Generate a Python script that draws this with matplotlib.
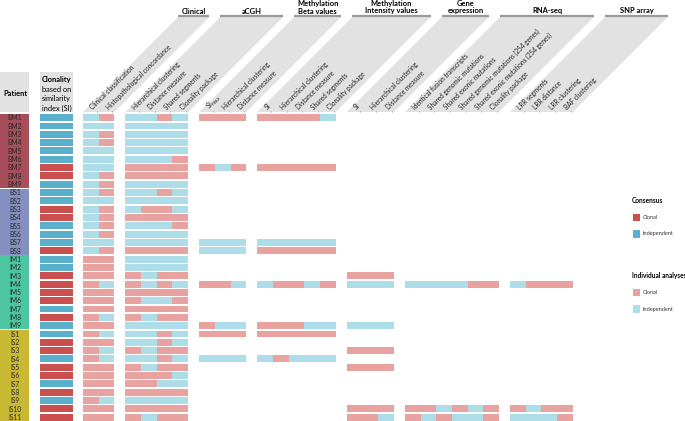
import matplotlib.pyplot as plt
from matplotlib.patches import Polygon, Rectangle

plt.rcParams["font.family"] = ["Lato", "DejaVu Sans"]

# patients and consensus call (C = clonal, I = independent)
patients = (["BM%d" % i for i in range(1, 10)] + ["BS%d" % i for i in range(1, 9)]
            + ["IM%d" % i for i in range(1, 10)] + ["IS%d" % i for i in range(1, 12)])
patient_groups = ["BM", "BS", "IM", "IS"]
consensus = ("IIIIIICCI" + "IICCIIIC" + "IICCCCICI" + "ICCICCICICC")

group_titles = ["Clinical", "aCGH", "Methylation\nBeta values", "Methylation\nIntensity values",
                "Gene\nexpression", "RNA-seq", "SNP array"]
group_labels = [
    ["Clinical classification", "Histopathological concordance"],
    ["Hierarchical clustering", "Distance measure", "Shared segments", "Clonality package"],
    [r"SI$_{\mathrm{max}}$", "Hierarchical clustering", "Distance measure"],
    ["SI", "Hierarchical clustering", "Distance measure", "Shared segments", "Clonality package"],
    ["SI", "Hierarchical clustering", "Distance measure"],
    ["Identical fusion transcripts", "Shared genomic mutations", "Shared exonic mutations",
     "Shared genomic mutations (254 genes)", "Shared exonic mutations (254 genes)",
     "Clonality package"],
    ["LRR segments", "LRR distance", "LRR clustering", "BAF clustering"],
]

clinical = ["IC", "II", "IC", "IC", "II", "II", "II", "IC", "IC",
            "IC", "II", "IC", "IC", "IC", "IC", "II", "IC",
            "CC", "CC", "CC", "CI", "CC", "CC", "CC", "CI", "CC",
            "CI", "CC", "CI", "CI", "CC", "CC", "CC", "CC", "CI", "CC", "CC"]
acgh = ["IICI", "IIII", "IIII", "IIII", "IIII", "IIIC", "CCCC", "CCCC", "IIII",
        "IICI", "IIII", "ICCI", "CCCC", "IIIC", "IIII", "IIII", "CCCC",
        "IIII", "IIII", "CICC", "CICI", "CCCC", "CIIC", "CCCC", "CICC", "IIII",
        "IICI", "IICI", "CICC", "IICI", "CICC", "CCCI", "CCII", "CCCC", "IIII", "CCCC", "CICC"]
meth_beta = {"BM1": "CCC", "BM7": "CIC", "BS7": "III", "BS8": "III",
             "IM4": "CCI", "IM9": "CII", "IS1": "CCC", "IS4": "III"}
meth_intensity = {"BM1": "CCCCI", "BM7": "CCCCC", "BS7": "IIIII", "BS8": "CCCCC",
                  "IM4": "ICCIC", "IM9": "CCCII", "IS1": "CCCCC", "IS4": "ICIII"}
gene_expr = {"IM3": "CCC", "IM4": "III", "IM9": "III", "IS3": "CCC",
             "IS5": "CCC", "IS10": "CCC", "IS11": "CCI"}
rna_seq = {"IM4": "IIIICC", "IS10": "CCICIC", "IS11": "CICIIC"}
snp = {"IM4": "ICCC", "IS10": "CICC", "IS11": "IIIC"}

clinical = dict(zip(patients, clinical))
acgh = dict(zip(patients, acgh))
group_data = [clinical, acgh, meth_beta, meth_intensity, gene_expr, rna_seq, snp]

# colours
patient_colors = {"BM": "#a84d5a", "BS": "#8390c0", "IM": "#4cc6a1", "IS": "#c9b834"}
cons_colors = {"C": "#c9504f", "I": "#5ab0cb"}
ind_colors = {"C": "#e8a3a1", "I": "#acdde8"}
grey = "#e2e2e2"

# layout (pixels)
row_top, pitch, cell_h = 114.2, 8.32, 6.9
col_w, gap, x_first = 15.7, 11.0, 83.0
slant, band_bot, band_top = 95.0, 112.0, 17.0

fig = plt.figure(figsize=(6.85, 4.21), dpi=100)
ax = fig.add_axes([0, 0, 1, 1])
ax.set_xlim(0, 685)
ax.set_ylim(421, 0)
ax.axis("off")

def row_y(i):
    return row_top + i * pitch + cell_h / 2

# patient column
for g in patient_groups:
    idx = [i for i, p in enumerate(patients) if p.startswith(g)]
    top = row_top + idx[0] * pitch - 0.4
    bot = row_top + idx[-1] * pitch + cell_h + 0.4
    ax.add_patch(Rectangle((0, top), 29.5, bot - top, color=patient_colors[g], lw=0))
for i, p in enumerate(patients):
    ax.text(15, row_y(i) + 0.3, p, fontsize=4.8, ha="center", va="center", color="#2a2a2a")

# consensus column
for i, c in enumerate(consensus):
    ax.barh(row_y(i), 33, left=40, height=cell_h, color=cons_colors[c], lw=0)

# header boxes
ax.add_patch(Rectangle((0, 72), 29.5, 40, color=grey, lw=0))
ax.add_patch(Rectangle((40, 72), 33, 40, color=grey, lw=0))
ax.text(15, 94, "Patient", fontsize=5.3, fontweight="bold", ha="center", va="center")
ax.text(56.5, 79.5, "Clonality", fontsize=5.3, fontweight="bold", ha="center", va="center")
for k, line in enumerate(["based on", "similarity", "index (SI)"]):
    ax.text(56.5, 89.5 + k * 9.5, line, fontsize=5.3, ha="center", va="center")

# analysis groups
x0 = x_first
for title, labels, data in zip(group_titles, group_labels, group_data):
    n = len(labels)
    x1 = x0 + n * col_w
    ax.add_patch(Polygon([(x0, band_bot), (x1, band_bot), (x1 + slant, band_top),
                          (x0 + slant, band_top)], closed=True, color=grey, lw=0))
    ax.plot([x0 + slant, x1 + slant], [band_top - 0.8, band_top - 0.8], color="#9a9a9a", lw=1.6,
            solid_capstyle="butt")
    ax.text((x0 + x1) / 2 + slant, band_top - 2.5, title, fontsize=5.4, fontweight="bold",
            ha="center", va="bottom", linespacing=1.1)
    for j, lab in enumerate(labels):
        cx = x0 + (j + 0.5) * col_w
        ax.text(cx + 2.5, band_bot - 2, lab, fontsize=4.7, rotation=45, rotation_mode="anchor",
                ha="left", va="baseline", color="#222222")
        ax.plot([x0 + (j + 1) * col_w - 2] * 2, [band_bot - 1.0, band_bot + 0.3],
                color="#8a8a8a", lw=0.4)
    for i, p in enumerate(patients):
        calls = data.get(p, "")
        for j, c in enumerate(calls):
            ax.barh(row_y(i), col_w, left=x0 + j * col_w, height=cell_h,
                    color=ind_colors[c], lw=0)
    x0 = x1 + gap

# legend
def legend_block(y, title, colors):
    ax.text(632, y, title, fontsize=4.7, fontweight="bold", ha="left", va="center")
    for k, (key, name) in enumerate([("C", "Clonal"), ("I", "Independent")]):
        yy = y + 17 + k * 16.5
        ax.add_patch(Rectangle((633, yy - 3.7), 7, 7.4, color=colors[key], lw=0))
        ax.text(643, yy, name, fontsize=4.0, ha="left", va="center", color="#333333")

legend_block(200.5, "Consensus", cons_colors)
legend_block(275.5, "Individual analyses", ind_colors)

fig.savefig("out.png", dpi=100)
